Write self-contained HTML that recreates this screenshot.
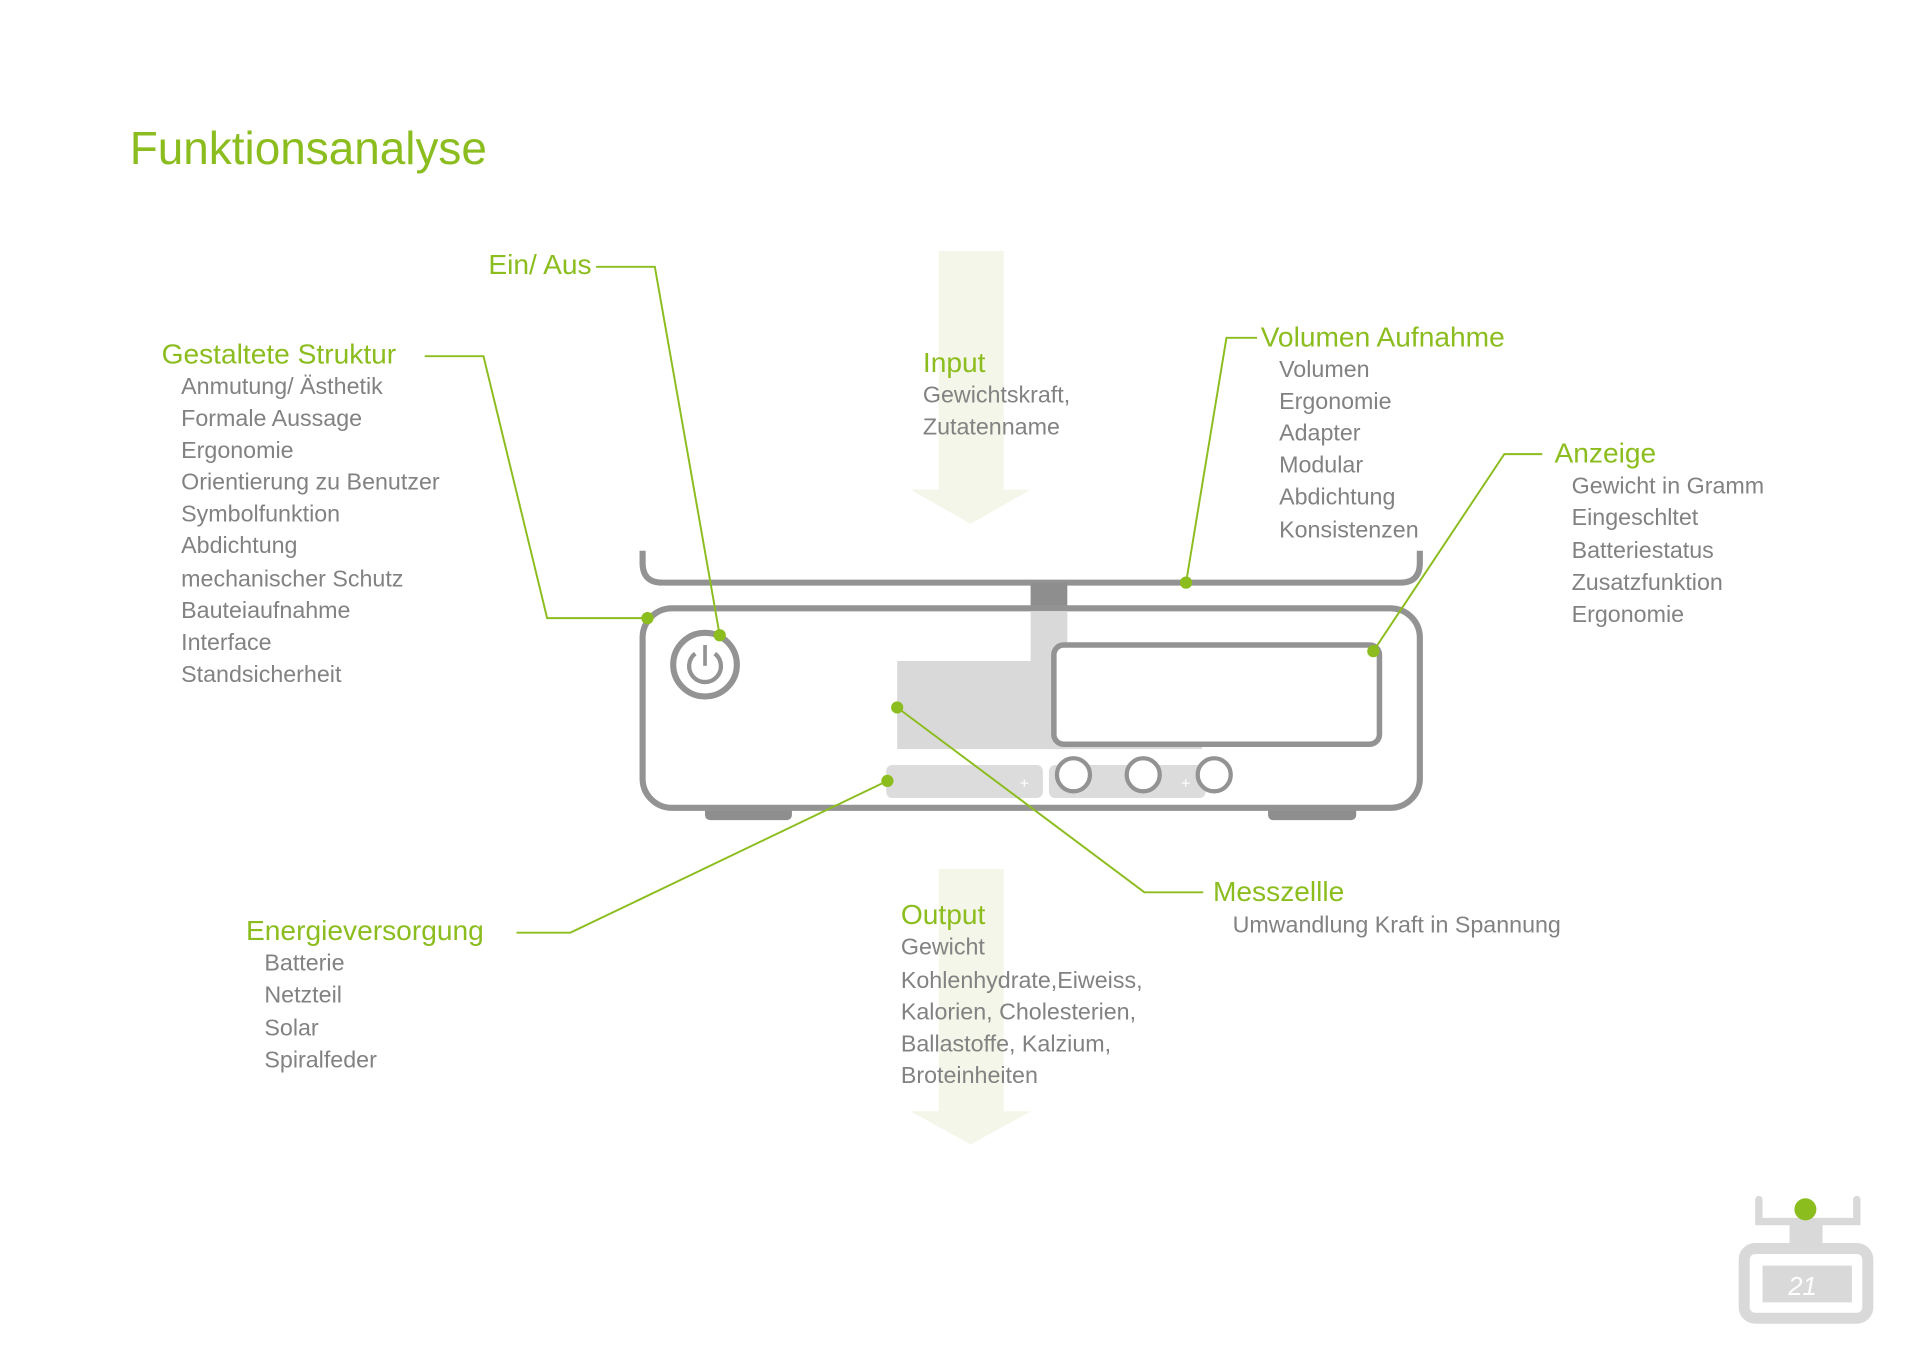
<!DOCTYPE html>
<html><head><meta charset="utf-8"><style>
html,body{margin:0;padding:0;background:#fff;}
svg{display:block}
.g{fill:#8cbd1f;font-family:"Liberation Sans",sans-serif;font-size:23px;}
.t{fill:#828282;font-family:"Liberation Sans",sans-serif;font-size:19px;}
.ln{stroke:#8cbd1f;stroke-width:1.6;fill:none;}
.dot{fill:#8cbd1f;}
</style></head><body>
<svg width="1920" height="1358" viewBox="0 0 1920 1358" xmlns="http://www.w3.org/2000/svg">
<g transform="scale(1.224)">
<!-- arrows -->
<g fill="#f3f6e8">
<rect x="767" y="205" width="53" height="196"/>
<polygon points="744,400 842,400 793,428"/>
<rect x="767" y="710" width="53" height="199"/>
<polygon points="744,908 842,908 793,935"/>
</g>
<text x="106" y="134" class="g" style="font-size:37.5px">Funktionsanalyse</text>

<!-- device -->
<path d="M525,450 V460 Q525,476 541,476 H1144 Q1160,476 1160,460 V450" fill="none" stroke="#939393" stroke-width="5"/>
<rect x="842" y="476" width="30" height="22" fill="#8e8e8e"/>
<rect x="576" y="655" width="71" height="15" rx="4" fill="#8e8e8e"/>
<rect x="1036" y="655" width="72" height="15" rx="4" fill="#8e8e8e"/>
<rect x="525" y="497" width="635" height="163" rx="24" fill="#fff" stroke="#939393" stroke-width="5"/>
<rect x="842" y="500" width="30" height="42" fill="#d9d9d9"/>
<rect x="733" y="540" width="140" height="72" fill="#d9d9d9"/>
<rect x="860" y="595" width="122" height="17" fill="#d9d9d9"/>
<rect x="861" y="527" width="266" height="81" rx="8" fill="#fff" stroke="#939393" stroke-width="4.5"/>
<rect x="724" y="625" width="128" height="27" rx="5" fill="#dcdcdc"/>
<rect x="857" y="625" width="128" height="27" rx="5" fill="#dcdcdc"/>
<text x="833" y="644" fill="#fff" font-family="Liberation Sans" font-size="13">+</text>
<text x="965" y="644" fill="#fff" font-family="Liberation Sans" font-size="13">+</text>
<g fill="#fff" stroke="#939393" stroke-width="3.5">
<circle cx="877" cy="633" r="13.5"/><circle cx="934" cy="633" r="13.5"/><circle cx="992" cy="633" r="13.5"/>
</g>
<circle cx="576" cy="543" r="26" fill="#fff" stroke="#939393" stroke-width="5"/>
<path d="M568,534 A13,13 0 1 0 584,534" fill="none" stroke="#939393" stroke-width="3.5"/>
<line x1="576" y1="527" x2="576" y2="544" stroke="#939393" stroke-width="3"/>

<!-- connectors -->
<polyline class="ln" points="487,218 535,218 588,519"/>
<polyline class="ln" points="347,291 395,291 447,505 529,505"/>
<polyline class="ln" points="1027,276 1002,276 969,476"/>
<polyline class="ln" points="1260,371 1229,371 1122,532"/>
<polyline class="ln" points="983,729 935,729 733,578"/>
<polyline class="ln" points="422,762 466,762 725,638"/>
<circle class="dot" cx="588" cy="519" r="5"/>
<circle class="dot" cx="529" cy="505" r="5"/>
<circle class="dot" cx="969" cy="476" r="5"/>
<circle class="dot" cx="1122" cy="532" r="5"/>
<circle class="dot" cx="733" cy="578" r="5"/>
<circle class="dot" cx="725" cy="638" r="5"/>

<!-- labels -->
<text x="399" y="224" class="g">Ein/ Aus</text>
<text x="132" y="297" class="g">Gestaltete Struktur</text>
<g class="t">
<text x="148" y="322">Anmutung/ Ästhetik</text>
<text x="148" y="348">Formale Aussage</text>
<text x="148" y="374">Ergonomie</text>
<text x="148" y="400">Orientierung zu Benutzer</text>
<text x="148" y="426">Symbolfunktion</text>
<text x="148" y="452">Abdichtung</text>
<text x="148" y="479">mechanischer Schutz</text>
<text x="148" y="505">Bauteiaufnahme</text>
<text x="148" y="531">Interface</text>
<text x="148" y="557">Standsicherheit</text>
</g>
<text x="754" y="304" class="g">Input</text>
<text x="754" y="329" class="t">Gewichtskraft,</text>
<text x="754" y="355" class="t">Zutatenname</text>
<text x="1030" y="283" class="g">Volumen Aufnahme</text>
<g class="t">
<text x="1045" y="308">Volumen</text>
<text x="1045" y="334">Ergonomie</text>
<text x="1045" y="360">Adapter</text>
<text x="1045" y="386">Modular</text>
<text x="1045" y="412">Abdichtung</text>
<text x="1045" y="439">Konsistenzen</text>
</g>
<text x="1270" y="378" class="g">Anzeige</text>
<g class="t">
<text x="1284" y="403">Gewicht in Gramm</text>
<text x="1284" y="429">Eingeschltet</text>
<text x="1284" y="456">Batteriestatus</text>
<text x="1284" y="482">Zusatzfunktion</text>
<text x="1284" y="508">Ergonomie</text>
</g>
<text x="991" y="736" class="g">Messzellle</text>
<text x="1007" y="762" class="t">Umwandlung Kraft in Spannung</text>
<text x="201" y="768" class="g">Energieversorgung</text>
<g class="t">
<text x="216" y="793">Batterie</text>
<text x="216" y="819">Netzteil</text>
<text x="216" y="846">Solar</text>
<text x="216" y="872">Spiralfeder</text>
</g>
<text x="736" y="755" class="g">Output</text>
<g class="t">
<text x="736" y="780">Gewicht</text>
<text x="736" y="807">Kohlenhydrate,Eiweiss,</text>
<text x="736" y="833">Kalorien, Cholesterien,</text>
<text x="736" y="859">Ballastoffe, Kalzium,</text>
<text x="736" y="885">Broteinheiten</text>
</g>

<!-- small icon -->
<path d="M1437,980 V998 H1517 V980" fill="none" stroke="#d9d9d9" stroke-width="6" stroke-linecap="round"/>
<rect x="1462" y="998" width="27" height="18" fill="#d9d9d9"/>
<circle cx="1475" cy="988" r="9" fill="#8cbd1f"/>
<rect x="1425" y="1020" width="101" height="57" rx="9" fill="#fff" stroke="#d9d9d9" stroke-width="9"/>
<rect x="1440" y="1034" width="73" height="30" fill="#d9d9d9"/>
<text x="1461" y="1058" fill="#fff" font-family="Liberation Sans" font-style="italic" font-size="21">21</text>
</g>
</svg>
</body></html>
